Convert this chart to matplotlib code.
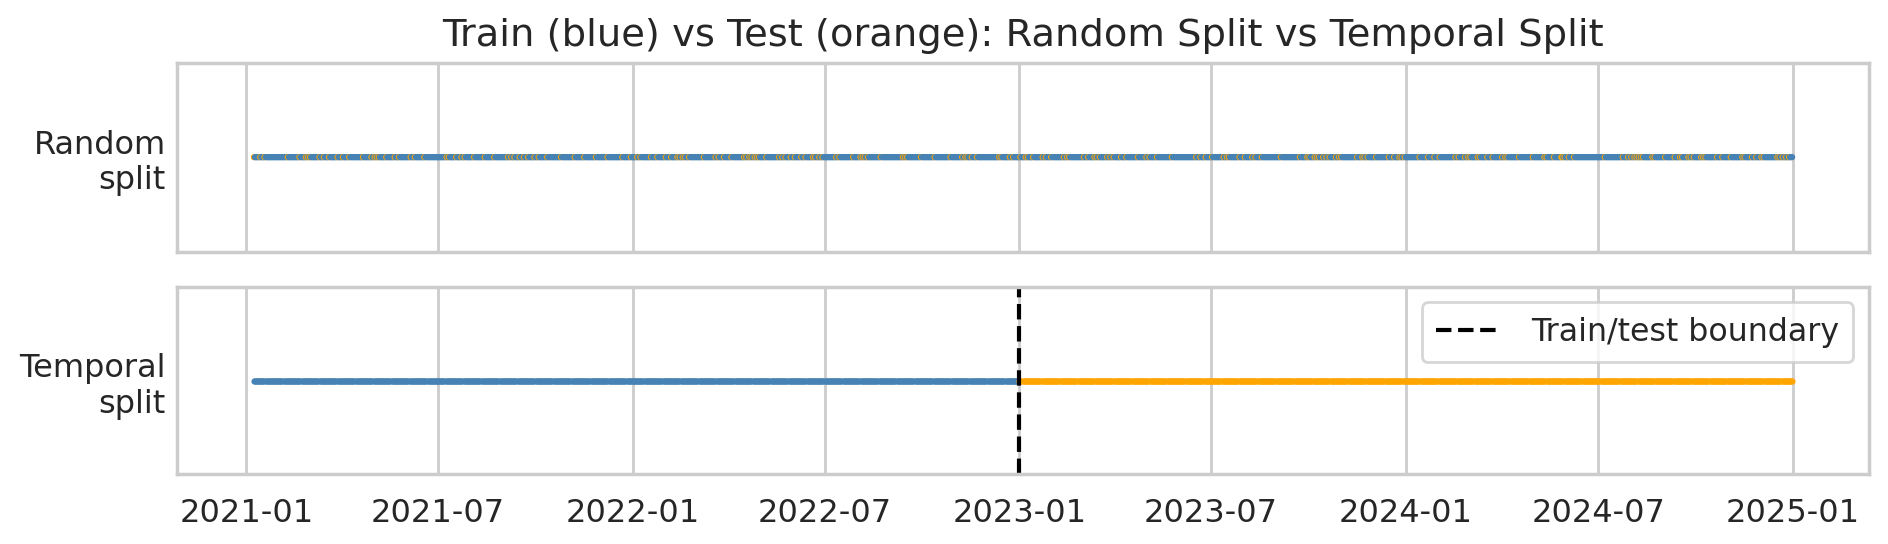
import matplotlib
matplotlib.use("Agg")
import matplotlib.pyplot as plt
import matplotlib.dates as mdates
import seaborn as sns
import numpy as np
import pandas as pd

# ---------------- data ----------------
start_date = "2021-01-08"
end_date = "2024-12-31"
boundary_date = "2023-01-01"
origin_date = "2021-01-01"
# days since 2021-01-01 that fall in the random test set
test_day_offsets = [
    7, 13, 17, 39, 50, 56, 58, 60, 69, 73, 78, 86, 91, 97, 110, 118, 121, 123, 125, 132,
    140, 144, 155, 159, 168, 189, 191, 198, 203, 206, 215, 225, 234, 247, 250, 253, 258,
    262, 266, 272, 276, 284, 297, 310, 319, 330, 341, 355, 363, 369, 372, 382, 388, 396,
    401, 407, 409, 412, 414, 418, 432, 443, 446, 451, 458, 470, 472, 475, 477, 480, 482,
    484, 491, 503, 506, 509, 514, 518, 524, 528, 535, 537, 541, 544, 557, 560, 573, 580,
    582, 584, 587, 599, 620, 622, 624, 637, 650, 665, 676, 679, 681, 685, 690, 711, 713,
    721, 724, 731, 736, 738, 743, 752, 755, 760, 772, 775, 777, 791, 795, 801, 803, 806,
    813, 816, 819, 826, 831, 842, 850, 853, 860, 874, 897, 901, 906, 912, 923, 926, 928,
    938, 943, 950, 953, 959, 977, 995, 1002, 1004, 1009, 1011, 1013, 1017, 1020, 1023,
    1029, 1032, 1034, 1049, 1054, 1056, 1059, 1067, 1079, 1084, 1089, 1091, 1094, 1108,
    1116, 1122, 1127, 1142, 1145, 1151, 1154, 1156, 1163, 1165, 1172, 1177, 1186, 1189,
    1191, 1202, 1215, 1226, 1228, 1235, 1242, 1243, 1245, 1249, 1254, 1283, 1300, 1305,
    1308, 1311, 1313, 1315, 1317, 1319, 1328, 1330, 1340, 1349, 1354, 1356, 1362, 1364,
    1367, 1374, 1376, 1378, 1389, 1394, 1402, 1413, 1415, 1422, 1426, 1431, 1433, 1446,
    1448, 1451, 1454, 1457,
]
row_labels = ["Random\nsplit", "Temporal\nsplit"]
title = "Train (blue) vs Test (orange): Random Split vs Temporal Split"
legend_label = "Train/test boundary"
train_color = "steelblue"
test_color = "orange"

# ---------------- build ----------------
dates = pd.date_range(start_date, end_date, freq="D")
test_dates = pd.to_datetime(origin_date) + pd.to_timedelta(test_day_offsets, unit="D")
is_test_random = dates.isin(test_dates)
boundary = pd.to_datetime(boundary_date)
is_test_temporal = dates >= boundary

sns.set_theme(style="whitegrid")
plt.rcParams["font.family"] = ["DejaVu Sans"]

fig = plt.figure(figsize=(9.44, 2.72), dpi=200)
ax1 = fig.add_axes([0.09375, 0.5373, 0.8962, 0.3476])
ax2 = fig.add_axes([0.09375, 0.1279, 0.8962, 0.3452], sharex=ax1)

y0 = np.zeros(len(dates))
colors = np.where(is_test_random, test_color, train_color)
ax1.scatter(dates, y0, c=colors, s=5, linewidths=0)

ax2.scatter(dates[~is_test_temporal], y0[~is_test_temporal], color=train_color, s=5, linewidths=0)
ax2.scatter(dates[is_test_temporal], y0[is_test_temporal], color=test_color, s=5, linewidths=0)
ax2.axvline(boundary, color="black", linestyle="--", linewidth=1.5, label=legend_label)
ax2.legend(loc="upper right", fontsize=11.4, borderpad=0.45, handlelength=2.1,
           handletextpad=0.9)

for ax, lab in zip((ax1, ax2), row_labels):
    ax.set_yticks([0])
    ax.set_yticklabels([lab])
    ax.set_ylim(-1, 1)
    ax.grid(False, axis="y")
    ax.tick_params(axis="y", labelsize=11.5, length=0, pad=4)
    ax.tick_params(axis="x", labelsize=11.5, length=0, pad=8.4)

plt.setp(ax1.get_xticklabels(), visible=False)
ax1.set_title(title, fontsize=13.85)

ax2.xaxis.set_major_locator(mdates.MonthLocator(bymonth=[1, 7]))
ax2.xaxis.set_major_formatter(mdates.DateFormatter("%Y-%m"))

fig.savefig("out.png", dpi=200)
